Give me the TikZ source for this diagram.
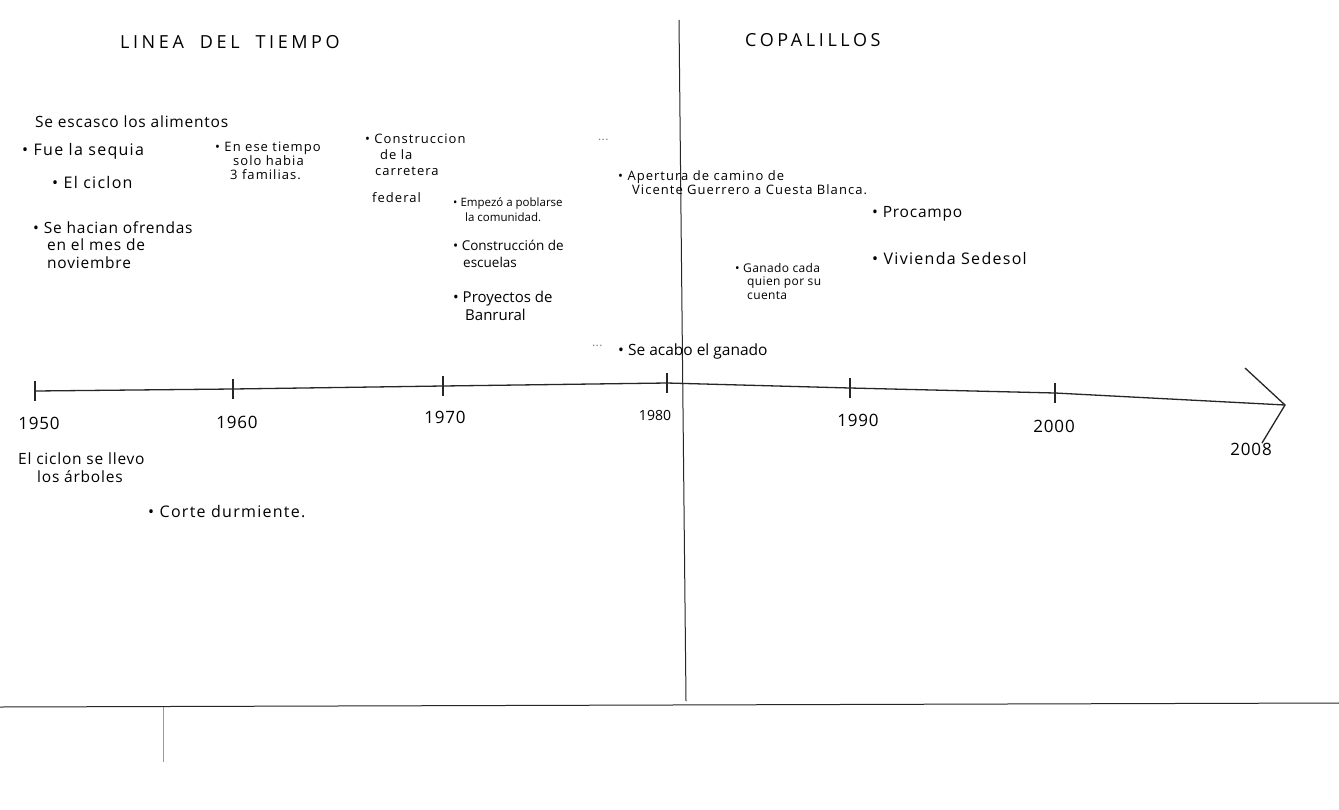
\documentclass[tikz,border=0pt]{standalone}
\usepackage{fontspec}
\setmainfont{Open Sans}
\begin{document}
\begin{tikzpicture}[x=1pt,y=-1pt,
  txt/.style={anchor=west, align=left, inner sep=0pt},
  big/.style={txt, font=\fontsize{16}{18}\selectfont\addfontfeature{LetterSpace=8}},
  mid/.style={txt, font=\fontsize{15.5}{18}\selectfont\addfontfeature{LetterSpace=5}},
  small/.style={txt, font=\fontsize{13}{14}\selectfont\addfontfeature{LetterSpace=8}},
  tiny/.style={txt, font=\fontsize{12}{13.5}\selectfont\addfontfeature{LetterSpace=3}},
  year/.style={anchor=center, inner sep=0pt, font=\fontsize{17}{18}\selectfont\addfontfeature{LetterSpace=5}},
  title/.style={anchor=west, inner sep=0pt, font=\fontsize{18}{20}\selectfont\addfontfeature{LetterSpace=20}},
  pen/.style={line width=1pt, black!85},
  axis/.style={line width=1.3pt, black!85},
  tickmark/.style={line width=1.2pt, black!85},
  faint/.style={line width=0.6pt, black!40}]
\fill[white] (0,0) rectangle (1339,809);
\useasboundingbox (0,0) rectangle (1339,809);

% frame lines
\coordinate (vtop) at (679,20);
\coordinate (vbot) at (686,701);
\draw[pen] (vtop) -- (vbot);
\coordinate (bl) at (0,707);
\coordinate (br) at (1339,703);
\draw[pen] (bl) -- (br);
\coordinate (et) at (163,707);
\coordinate (eb) at (163,762);
\draw[faint] (et) -- (eb);

% titles
\node[title] (t1) at (120,42) {LINEA\hspace{16pt}DEL\hspace{16pt}TIEMPO};
\node[title] (t2) at (745,40) {COPALILLOS};

% timeline
\coordinate (p50) at (35,391);
\coordinate (p60) at (233,389);
\coordinate (p70) at (443,386);
\coordinate (p80) at (667,383);
\coordinate (p90) at (850,388);
\coordinate (p00) at (1055,393);
\coordinate (p08) at (1285,405);
\draw[axis] (p50) -- (p60) -- (p70) -- (p80) -- (p90) -- (p00) -- (p08);
\foreach \p in {p50,p60,p70,p80,p90,p00}
  \draw[tickmark] ([yshift=-10pt]\p) -- ([yshift=10pt]\p);
\coordinate (ah1) at (1245,368);
\coordinate (ah2) at (1262,443);
\draw[axis] (ah1) -- (p08) -- (ah2);

% years
\node[year] (y50) at (39,423) {1950};
\node[year] (y60) at (237,422) {1960};
\node[year] (y70) at (445,417) {1970};
\node[year, font=\fontsize{14}{16}\selectfont] (y80) at (655,415) {1980};
\node[year] (y90) at (858,420) {1990};
\node[year] (y00) at (1054,426) {2000};
\node[year] (y08) at (1251,449) {2008};

% events above
\node[mid] (a1) at (35,122) {Se escasco los alimentos};
\node[big] (a2) at (22,151) {• Fue la sequia};
\node[big] (a3) at (52,182) {• El ciclon};
\node[mid, anchor=north west, font=\fontsize{15.5}{17.5}\selectfont\addfontfeature{LetterSpace=5}] (a4) at (33,221) {• Se hacian ofrendas\\\hspace{14pt}en el mes de\\\hspace{14pt}noviembre};
\node[small, anchor=north west] (a5) at (215,142) {• En ese tiempo\\\hspace{18pt}solo habia\\\hspace{15pt}3 familias.};
\node[small, anchor=north west, font=\fontsize{13}{16}\selectfont\addfontfeature{LetterSpace=8}] (a6) at (365,134) {• Construccion\\\hspace{15pt}de la\\\hspace{10pt}carretera\\[11pt]\hspace{7pt}federal};
\node[txt, anchor=north west, font=\fontsize{11.5}{15}\selectfont] (a7) at (453,197) {• Empezó a poblarse\\\hspace{12pt}la comunidad.};
\node[txt, anchor=north west, font=\fontsize{13.5}{17}\selectfont] (a8) at (453,240) {• Construcción de\\\hspace{10pt}escuelas};
\node[txt, anchor=north west, font=\fontsize{15}{18}\selectfont] (a9) at (453,291) {• Proyectos de\\\hspace{12pt}Banrural};
\node[tiny, text=black!50] (d1) at (598,140) {...};
\node[small, anchor=north west] (a10) at (618,170) {• Apertura de camino de\\\hspace{14pt}Vicente Guerrero a Cuesta Blanca.};
\node[tiny, text=black!50] (d2) at (592,346) {...};
\node[mid, font=\fontsize{15.5}{18}\selectfont] (a11) at (618,351) {• Se acabo el ganado};
\node[tiny, anchor=north west] (a12) at (735,263) {• Ganado cada\\\hspace{12pt}quien por su\\\hspace{12pt}cuenta};
\node[mid] (a13) at (872,214) {• Procampo};
\node[big] (a14) at (872,258) {• Vivienda Sedesol};

% events below
\node[mid, anchor=north west] (b1) at (18,453) {El ciclon se llevo\\\hspace{19pt}los árboles};
\node[big] (b2) at (148,512) {• Corte durmiente.};
\end{tikzpicture}
\end{document}
